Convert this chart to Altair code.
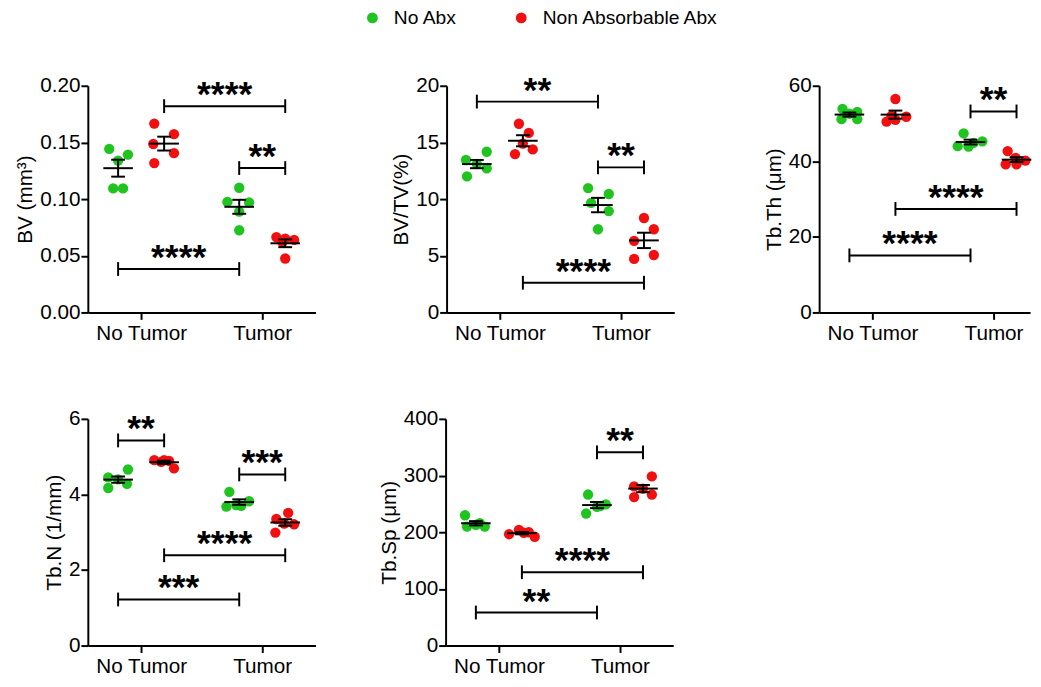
import altair as alt
import pandas as pd

groups = ["No Tumor", "Tumor"]
treatments = ["No Abx", "Non Absorbable Abx"]
colors = ["#1fc41f", "#f20f0f"]

# Order of the four sets in every panel:
# No Tumor / No Abx, No Tumor / Non Abs, Tumor / No Abx, Tumor / Non Abs
# *_jitter: horizontal scatter of each dot, in pixels
bv_values = [
    [0.1443, 0.1393, 0.1340, 0.1094, 0.1094],
    [0.1666, 0.1573, 0.1486, 0.1405, 0.1318],
    [0.1100, 0.0975, 0.0970, 0.0890, 0.0725],
    [0.0665, 0.0650, 0.0640, 0.0620, 0.0476],
]
bv_jitter = [[-9, 10, 0, -5, 5], [-10, 10, -11, 10, -10], [0, -12, 10, 0, 0], [-9, 0, 9, -3, 0]]
bv_brackets = [(1, 3, 0.182, "****"), (2, 3, 0.1274, "**"), (0, 2, 0.0383, "****")]

bvtv_values = [
    [13.45, 14.18, 13.10, 12.00, 12.72],
    [16.65, 15.84, 13.97, 14.38, 14.90],
    [10.97, 10.45, 9.67, 8.94, 7.34],
    [8.33, 7.34, 6.32, 4.72, 5.07],
]
bvtv_jitter = [[-11, 10, 0, -10, 10], [-4, 6, -8, 10, 0], [-10, 11, -7, 11, 0], [0, 10, -10, -10, 10]]
bvtv_brackets = [(0, 2, 18.6, "**"), (2, 3, 12.8, "**"), (1, 3, 2.62, "****")]

tbth_values = [
    [53.9, 53.06, 51.15, 51.15, 52.6],
    [56.5, 50.5, 51.0, 51.8, 52.0],
    [47.4, 44.0, 43.9, 45.3, 44.9],
    [42.7, 39.2, 39.2, 40.2, 40.9],
]
tbth_jitter = [[-7, 8, -8, 8, 0], [0, -9, 0, 11, -4], [-7, -13, -2, 12, 3], [-9, -11, 0, 9, -1]]
tbth_brackets = [(2, 3, 53.2, "**"), (1, 3, 27.4, "****"), (0, 2, 15.1, "****")]

tbn_values = [
    [4.45, 4.66, 4.17, 4.28, 4.40],
    [4.91, 4.91, 4.89, 4.69, 4.86],
    [4.07, 3.68, 3.70, 3.82, 3.72],
    [3.51, 3.35, 2.99, 3.21, 3.23],
]
tbn_jitter = [[-10, 10, -10, 9, 0], [-10, 0, 5, 10, -3], [-10, -13, 2, 10, -3], [3, -9, -10, 9, -1]]
tbn_brackets = [(0, 1, 5.43, "**"), (2, 3, 4.53, "***"), (1, 3, 2.39, "****"), (0, 2, 1.22, "***")]

tbsp_values = [
    [230, 210, 213, 210, 216],
    [196.5, 204, 200, 192, 199],
    [266.5, 233, 245, 249, 246],
    [298.5, 281, 277, 262, 266.5],
]
tbsp_jitter = [[-11, -9, 0, 9, 4], [-13, -3, 7, 13, 2], [-9, -11, 0, 9, 3], [9, -9, 0, -9, 9]]
tbsp_brackets = [(2, 3, 341, "**"), (1, 3, 129.4, "****"), (0, 2, 58.3, "**")]

FONT = "Liberation Sans"
DODGE = [-0.19, 0.19]
XDOM = [0.56, 2.44]
W, H = 231, 230
PX_PER_UNIT = W / (XDOM[1] - XDOM[0])

label_expr = "[" + ",".join("'%s'" % g for g in groups) + "][datum.value - 1]"


def centre(k):
    gi, ti = divmod(k, 2)
    return gi + 1 + DODGE[ti]


def panel(title, values, jitter, brackets, ymax, ystep, fmt, width=W):
    rows = []
    for k in range(4):
        gi, ti = divmod(k, 2)
        for v, j in zip(values[k], jitter[k]):
            rows.append(dict(group=groups[gi], treatment=treatments[ti],
                             center=centre(k), pos=centre(k) + j / PX_PER_UNIT, value=v))
    df = pd.DataFrame(rows)
    br = pd.DataFrame([dict(x1=centre(a), x2=centre(b), xm=(centre(a) + centre(b)) / 2,
                            y=y, label=lab) for a, b, y, lab in brackets])

    # same pixels-per-unit in every panel; a narrower panel is cut at the right
    xs = alt.Scale(domain=[XDOM[0], XDOM[0] + width / PX_PER_UNIT], nice=False, zero=False)
    ys = alt.Scale(domain=[0, ymax], nice=False, zero=True)
    ticks = [round(i * ystep, 6) for i in range(int(round(ymax / ystep)) + 1)]
    xax = alt.Axis(values=[1, 2], labelExpr=label_expr, title=None)
    yax = alt.Axis(values=ticks, format=fmt, title=title)

    def X(f):
        return alt.X(f, scale=xs, axis=xax)

    def Y(f):
        return alt.Y(f, scale=ys, axis=yax)

    legend = alt.Legend(orient="none", legendX=279, legendY=-79, direction="horizontal",
                        title=None, symbolType="circle", symbolSize=120, symbolStrokeWidth=0,
                        labelFont=FONT, labelFontSize=19.5, labelColor="black", labelLimit=0,
                        labelOffset=12, columnPadding=55, padding=0)

    pts = alt.Chart(df).mark_circle(size=110, opacity=1).encode(
        x=X("pos:Q"), y=Y("value:Q"),
        color=alt.Color("treatment:N", scale=alt.Scale(domain=treatments, range=colors),
                        legend=legend),
    )

    stats = alt.Chart(df).transform_aggregate(
        m="mean(value)", s="stderr(value)", groupby=["center"]
    ).transform_calculate(lo="datum.m - datum.s", hi="datum.m + datum.s")

    vbar = stats.mark_rule(color="black", strokeWidth=2).encode(
        x=X("center:Q"), y=Y("lo:Q"), y2="hi:Q")
    cap_lo = stats.mark_rule(color="black", strokeWidth=2, xOffset=-7, x2Offset=7).encode(
        x=X("center:Q"), x2="center:Q", y=Y("lo:Q"))
    cap_hi = stats.mark_rule(color="black", strokeWidth=2, xOffset=-7, x2Offset=7).encode(
        x=X("center:Q"), x2="center:Q", y=Y("hi:Q"))
    mean = stats.mark_rule(color="black", strokeWidth=2, xOffset=-15, x2Offset=15).encode(
        x=X("center:Q"), x2="center:Q", y=Y("m:Q"))

    bb = alt.Chart(br)
    hline = bb.mark_rule(color="black", strokeWidth=2).encode(
        x=X("x1:Q"), x2="x2:Q", y=Y("y:Q"))
    lend = bb.mark_rule(color="black", strokeWidth=2, yOffset=-7, y2Offset=7).encode(
        x=X("x1:Q"), y=Y("y:Q"), y2="y:Q")
    rend = bb.mark_rule(color="black", strokeWidth=2, yOffset=-7, y2Offset=7).encode(
        x=X("x2:Q"), y=Y("y:Q"), y2="y:Q")
    stars = bb.mark_text(font=FONT, fontSize=36, fontWeight="bold", color="black",
                         baseline="alphabetic", align="center", dy=0).encode(
        x=X("xm:Q"), y=Y("y:Q"), text="label:N")

    return alt.layer(pts, vbar, cap_lo, cap_hi, mean, hline, lend, rend, stars).properties(
        width=width, height=H)


p1 = panel("BV (mm³)", bv_values, bv_jitter, bv_brackets, 0.20, 0.05, ".2f")
p2 = panel("BV/TV(%)", bvtv_values, bvtv_jitter, bvtv_brackets, 20, 5, "d")
p3 = panel("Tb.Th (μm)", tbth_values, tbth_jitter, tbth_brackets, 60, 20, "d", width=214)
p4 = panel("Tb.N (1/mm)", tbn_values, tbn_jitter, tbn_brackets, 6, 2, "d")
p5 = panel("Tb.Sp (μm)", tbsp_values, tbsp_jitter, tbsp_brackets, 400, 100, "d")

row1 = alt.hconcat(alt.hconcat(p1, p2, spacing=76), p3, spacing=90)
row2 = alt.hconcat(p4, p5, spacing=63)

chart = alt.vconcat(row1, row2, spacing=66).resolve_scale(color="shared").resolve_legend(
    color="shared"
).properties(
    padding={"left": 7, "top": -5, "right": 0, "bottom": -4}
).configure_view(stroke=None).configure_axis(
    grid=False, domainColor="black", domainWidth=2, tickColor="black", tickWidth=2,
    tickSize=7, labelFont=FONT, labelFontSize=21, labelColor="black",
    titleFont=FONT, titleFontSize=21, titleFontWeight="normal", titleColor="black",
).configure_axisX(labelPadding=3).configure_axisY(labelPadding=1, titlePadding=4)

chart.save("out.html", embed_options={"renderer": "svg", "actions": False})
